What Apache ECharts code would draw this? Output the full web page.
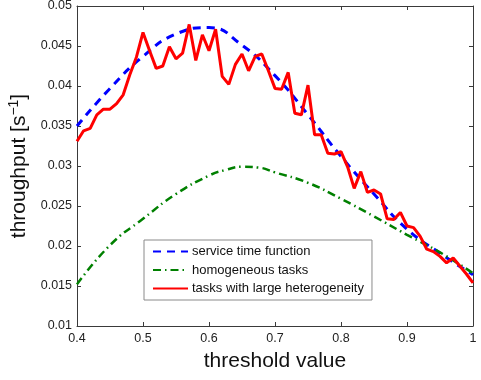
<!DOCTYPE html>
<html>
<head>
<meta charset="utf-8">
<script src="https://cdn.jsdelivr.net/npm/echarts@6/dist/echarts.min.js"></script>
<style>html,body{margin:0;padding:0;background:#fff}#c{width:481px;height:380px}</style>
</head>
<body>
<div id="c"></div>
<script>
// threshold values for the measured series (0.40 .. 1.00)
var thresholds = [0.40,0.41,0.42,0.43,0.44,0.45,0.46,0.47,0.48,0.49,
  0.50,0.51,0.52,0.53,0.54,0.55,0.56,0.57,0.58,0.59,
  0.60,0.61,0.62,0.63,0.64,0.65,0.66,0.67,0.68,0.69,
  0.70,0.71,0.72,0.73,0.74,0.75,0.76,0.77,0.78,0.79,
  0.80,0.81,0.82,0.83,0.84,0.85,0.86,0.87,0.88,0.89,
  0.90,0.91,0.92,0.93,0.94,0.95,0.96,0.97,0.98,0.99,1.00];
var heterogeneous = [0.0331,0.0344,0.0347,0.0364,0.0371,0.0371,0.0378,0.0389,0.0414,0.0436,
  0.0467,0.0444,0.0422,0.0425,0.0449,0.0434,0.0441,0.0477,0.0432,0.0464,
  0.0444,0.0471,0.0412,0.0402,0.0427,0.0440,0.0419,0.0437,0.0440,0.0419,
  0.0397,0.0396,0.0417,0.0366,0.0364,0.0401,0.0339,0.0339,0.0316,0.0315,
  0.0318,0.0299,0.0272,0.0293,0.0267,0.0270,0.0265,0.0234,0.0233,0.0242,
  0.0225,0.0223,0.0212,0.0196,0.0193,0.0187,0.0179,0.0185,0.0175,0.0165,0.0154];
// smooth model curves, read at coarser steps
var serviceX = [0.40,0.45,0.50,0.55,0.60,0.65,0.70,0.75,0.80,0.85,0.90,0.95,1.00];
var serviceTime = [0.0350,0.0397,0.0437,0.0465,0.0473,0.0451,0.0413,0.0364,0.0312,0.0265,0.0221,0.0191,0.0164];
var homogeneousX = [0.40,0.45,0.50,0.55,0.60,0.625,0.65,0.675,0.70,0.75,0.80,0.85,0.90,0.95,1.00];
var homogeneous = [0.0152,0.0201,0.0234,0.0265,0.0288,0.0295,0.0299,0.0298,0.0292,0.0279,0.0259,0.0237,0.0214,0.0192,0.0166];
var xTicks = {min:0.4, max:1, interval:0.1};
var yTicks = {min:0.01, max:0.05, interval:0.005};
var seriesNames = ['service time function','homogeneous tasks','tasks with large heterogeneity'];

function pairs(xs, ys){ return xs.map(function(x,i){ return [x, ys[i]]; }); }

var axisColor = '#3a3a3a';
var font = 'Liberation Sans, Arial, Helvetica, sans-serif';
var chart = echarts.init(document.getElementById('c'), null, {renderer:'canvas'});
var baseX = {
  type:'value', min:xTicks.min, max:xTicks.max, interval:xTicks.interval,
  axisLine:{show:true, onZero:false, lineStyle:{color:axisColor, width:1}},
  axisTick:{show:true, inside:true, length:4, lineStyle:{color:axisColor}},
  splitLine:{show:false}
};
var baseY = {
  type:'value', min:yTicks.min, max:yTicks.max, interval:yTicks.interval,
  axisLine:{show:true, onZero:false, lineStyle:{color:axisColor, width:1}},
  axisTick:{show:true, inside:true, length:4, lineStyle:{color:axisColor}},
  splitLine:{show:false}
};
chart.setOption({
  animation:false,
  backgroundColor:'#fff',
  grid:{left:77, right:8, top:6, bottom:54, containLabel:false, outerBoundsMode:'none'},
  xAxis:[
    Object.assign({}, baseX, {
      position:'bottom',
      name:'threshold value', nameLocation:'middle', nameGap:25,
      nameTextStyle:{fontFamily:font, fontSize:21, color:'#111'},
      axisLabel:{show:true, margin:6, fontFamily:font, fontSize:12.5, color:'#222',
        formatter:function(v){ return String(+v.toFixed(2)); }}
    }),
    Object.assign({}, baseX, {position:'top', axisLabel:{show:false}})
  ],
  yAxis:[
    Object.assign({}, baseY, {
      position:'left',
      name:'throughput [s{sup|−1}]', nameLocation:'middle', nameGap:46, nameRotate:90,
      nameTextStyle:{fontFamily:font, fontSize:21, color:'#111',
        rich:{sup:{fontFamily:font, fontSize:14, color:'#111', verticalAlign:'top', padding:[0,0,10,0]}}},
      axisLabel:{show:true, margin:5, fontFamily:font, fontSize:12.5, color:'#222',
        formatter:function(v){ return String(+v.toFixed(4)); }}
    }),
    Object.assign({}, baseY, {position:'right', axisLabel:{show:false}})
  ],
  legend:{
    orient:'vertical', left:144, top:240, width:236,
    padding:[5,8,5,8], itemGap:5.5, itemWidth:35, itemHeight:14,
    borderColor:'#8a8a8a', borderWidth:1, backgroundColor:'#fff',
    itemStyle:{opacity:0},
    textStyle:{fontFamily:font, fontSize:13, color:'#111', padding:[0,0,0,-1]},
    data:seriesNames
  },
  series:[
    {name:seriesNames[0], type:'line', smooth:true, showSymbol:false, symbol:'none',
     data:pairs(serviceX, serviceTime), z:2,
     lineStyle:{color:'#0000ff', width:3, type:[8,6]}, itemStyle:{color:'#0000ff'}},
    {name:seriesNames[1], type:'line', smooth:true, showSymbol:false, symbol:'none',
     data:pairs(homogeneousX, homogeneous), z:2,
     lineStyle:{color:'#008000', width:2.5, type:[8,4,1.5,4]}, itemStyle:{color:'#008000'}},
    {name:seriesNames[2], type:'line', smooth:false, showSymbol:false, symbol:'none',
     data:pairs(thresholds, heterogeneous), z:3,
     lineStyle:{color:'#ff0000', width:3}, itemStyle:{color:'#ff0000'}}
  ]
});
</script>
</body>
</html>
